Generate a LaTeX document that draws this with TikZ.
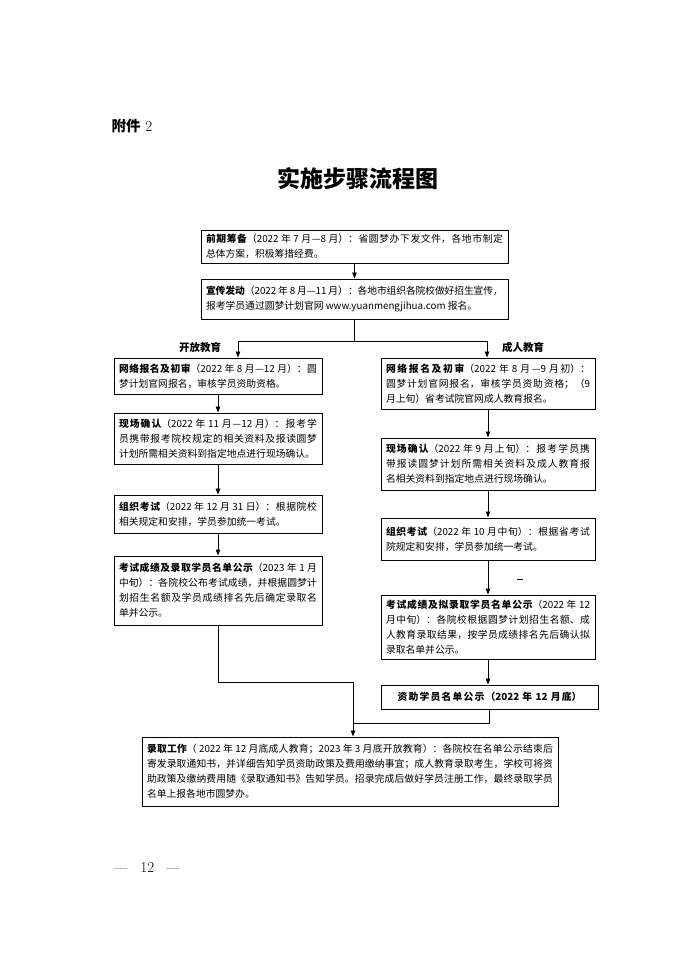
\documentclass[tikz,border=0pt]{standalone}
\usepackage{fontspec}
\usetikzlibrary{arrows.meta}
\newfontfamily\cjk{Noto Sans CJK SC}
\XeTeXlinebreaklocale "zh"
\XeTeXlinebreakskip=0pt plus 2pt minus 0.3pt

\begin{document}
\begin{tikzpicture}[x=1pt,y=-1pt,line width=0.8pt,
  stepbox/.style={draw,line width=1pt,inner xsep=5pt,inner ysep=2pt,align=justify,
    font=\cjk\fontsize{9.8}{15}\selectfont},
  branch/.style={font=\cjk\bfseries\fontsize{10.5}{12}\selectfont},
  arr/.style={-{Triangle[length=6pt,width=4.5pt]}}]
  \useasboundingbox (0,0) rectangle (680,961);

  % header
  \node[anchor=west] (annex) at (108,126)
    {{\cjk\bfseries\fontsize{14.5}{15}\selectfont 附件}\fontsize{15}{15}\selectfont\ 2};
  \node (title) at (358,179) {\cjk\bfseries\fontsize{23}{24}\selectfont 实施步骤流程图};

  % common steps
  \node[stepbox,text width=297pt,minimum height=33pt] (prep) at (354.5,246.5)
    {\textbf{前期筹备}（2022 年 7 月—8 月）：省圆梦办下发文件，各地市制定\linebreak 总体方案，积极筹措经费。};
  \node[stepbox,text width=297pt,minimum height=40pt] (promo) at (354.5,299)
    {\textbf{宣传发动}（2022 年 8 月—11 月）：各地市组织各院校做好招生宣传，\linebreak 报考学员通过圆梦计划官网 www.yuanmengjihua.com 报名。};

  \node[branch] (open) at (200,347) {开放教育};
  \node[branch] (adult) at (523,347) {成人教育};

  % open education column
  \node[stepbox,text width=198pt,minimum height=36pt] (l1) at (218,376)
    {\textbf{网络报名及初审}（2022 年 8 月—12 月）：圆\linebreak 梦计划官网报名，审核学员资助资格。};
  \node[stepbox,text width=198pt,minimum height=51pt] (l2) at (218,438.5)
    {\textbf{现场确认}（2022 年 11 月—12 月）：报考学\linebreak 员携带报考院校规定的相关资料及报读圆梦\linebreak 计划所需相关资料到指定地点进行现场确认。};
  \node[stepbox,text width=198pt,minimum height=38pt] (l3) at (218,514)
    {\textbf{组织考试}（2022 年 12 月 31 日）：根据院校\linebreak 相关规定和安排，学员参加统一考试。};
  \node[stepbox,text width=198pt,minimum height=69pt] (l4) at (218,590.5)
    {\textbf{考试成绩及录取学员名单公示}（2023 年 1 月\linebreak 中旬）：各院校公布考试成绩，并根据圆梦计\linebreak 划招生名额及学员成绩排名先后确定录取名\linebreak 单并公示。};

  % adult education column
  \node[stepbox,text width=204pt,minimum height=51pt] (r1) at (488,383.5)
    {\textbf{网络报名及初审}（2022 年 8 月—9 月初）：\linebreak 圆梦计划官网报名，审核学员资助资格；（9\linebreak 月上旬）省考试院官网成人教育报名。};
  \node[stepbox,text width=204pt,minimum height=52pt] (r2) at (488,464)
    {\textbf{现场确认}（2022 年 9 月上旬）：报考学员携\linebreak 带报读圆梦计划所需相关资料及成人教育报\linebreak 名相关资料到指定地点进行现场确认。};
  \node[stepbox,text width=204pt,minimum height=42pt] (r3) at (488,539)
    {\textbf{组织考试}（2022 年 10 月中旬）：根据省考试\linebreak 院规定和安排，学员参加统一考试。};
  \node[stepbox,text width=204pt,minimum height=64pt] (r4) at (488,627)
    {\textbf{考试成绩及拟录取学员名单公示}（2022 年 12\linebreak 月中旬）：各院校根据圆梦计划招生名额、成\linebreak 人教育录取结果，按学员成绩排名先后确认拟\linebreak 录取名单并公示。};
  \node[stepbox,align=center,text width=207pt,minimum height=24pt] (r5) at (489.5,697)
    {\textbf{资助学员名单公示（2022 年 12 月底）}};

  % final step
  \node[stepbox,text width=406pt,minimum height=69pt] (enrol) at (350,771.5)
    {\textbf{录取工作}（ 2022 年 12 月底成人教育；2023 年 3 月底开放教育）：各院校在名单公示结束后\linebreak 寄发录取通知书，并详细告知学员资助政策及费用缴纳事宜；成人教育录取考生，学校可将资\linebreak 助政策及缴纳费用随《录取通知书》告知学员。招录完成后做好学员注册工作，最终录取学员\linebreak 名单上报各地市圆梦办。};

  \node[anchor=west] (pageno) at (110,868)
    {\fontsize{14}{15}\selectfont —\hspace{13pt}\fontsize{15}{15}\selectfont 12\hspace{12pt}\fontsize{14}{15}\selectfont —};

  % connectors
  \coordinate (split) at (354,341);
  \coordinate (lsplit) at (238,341);
  \coordinate (rsplit) at (487,341);
  \coordinate (ljoin) at (353,682);
  \coordinate (rjoin) at (353,723);

  \draw[arr] (prep) -- (promo);
  \draw (promo.south -| split) -- (split);
  \draw[arr] (split) -- (lsplit) -- (lsplit |- l1.north);
  \draw[arr] (split) -- (rsplit) -- (rsplit |- r1.north);
  \draw[arr] (l1) -- (l2);
  \draw[arr] (l2) -- (l3);
  \draw[arr] (l3) -- (l4);
  \draw[arr] (r1) -- (r2);
  \draw[arr] (r2) -- (r3);
  \draw[arr] (r3) -- (r4);
  \draw[arr] (r4.south) -- (r4.south |- r5.north);
  \draw[arr] (l4.south) |- (ljoin) -- (ljoin |- enrol.north);
  \draw (r5.south) |- (rjoin);
  \draw (517,579) -- (523,579);
\end{tikzpicture}
\end{document}
